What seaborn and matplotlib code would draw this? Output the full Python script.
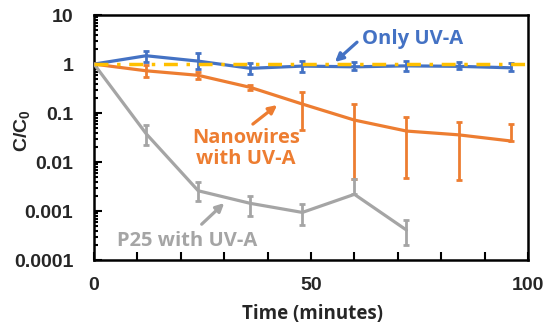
import numpy as np
import matplotlib
matplotlib.use('Agg')
import matplotlib.pyplot as plt
from matplotlib.ticker import FixedLocator, LogLocator, NullFormatter
import pandas as pd
import seaborn as sns

# time points (minutes)
time = [0, 12, 24, 36, 48, 60, 72, 84, 96]
time_p25 = [0, 12, 24, 36, 48, 60, 72]

# Only UV-A
uv_only = [1, 1.48, 1.15, 0.82, 0.91, 0.88, 0.92, 0.90, 0.84]
uv_only_hi = [1, 1.87, 1.70, 1.06, 1.17, 1.11, 1.15, 1.08, 1.06]
uv_only_lo = [1, 1.11, 0.80, 0.62, 0.68, 0.75, 0.73, 0.79, 0.73]

# Nanowires with UV-A
nanowires = [1, 0.73, 0.59, 0.335, 0.153, 0.072, 0.043, 0.036, 0.027]
nanowires_hi = [1, 0.94, 0.68, 0.37, 0.27, 0.15, 0.084, 0.066, 0.059]
nanowires_lo = [1, 0.55, 0.49, 0.29, 0.045, 0.0045, 0.0047, 0.0043, 0.027]

# P25 with UV-A
p25 = [1, 0.038, 0.0026, 0.00144, 0.00094, 0.0022, 0.00041]
p25_hi = [1, 0.057, 0.0039, 0.0020, 0.0014, 0.0045, 0.00065]
p25_lo = [1, 0.022, 0.0016, 0.00081, 0.00052, 0.0022, 0.00020]

ytick_vals = [10, 1, 0.1, 0.01, 0.001, 0.0001]
ytick_labels = ['10', '1', '0.1', '0.01', '0.001', '0.0001']

BLUE = '#4472C4'
ORANGE = '#ED7D31'
GRAY = '#A5A5A5'
YELLOW = '#FFC000'

sns.set_style('ticks')
plt.rcParams['font.family'] = ['Liberation Sans', 'DejaVu Sans']
plt.rcParams['mathtext.fontset'] = 'custom'
plt.rcParams['mathtext.bf'] = 'Liberation Sans:bold'
plt.rcParams['mathtext.rm'] = 'Liberation Sans:bold'

fig = plt.figure(figsize=(5.5, 3.28), dpi=100)
ax = fig.add_axes([0.171, 0.207, 0.789, 0.747])

series = [
    (time, uv_only, uv_only_lo, uv_only_hi, BLUE),
    (time, nanowires, nanowires_lo, nanowires_hi, ORANGE),
    (time_p25, p25, p25_lo, p25_hi, GRAY),
]
for t, v, lo, hi, col in series:
    df = pd.DataFrame({'t': t, 'v': v})
    sns.lineplot(data=df, x='t', y='v', ax=ax, color=col, lw=2.3, zorder=3)
    v = np.array(v)
    yerr = [v - np.array(lo), np.array(hi) - v]
    ax.errorbar(t, v, yerr=yerr, fmt='none', ecolor=col, elinewidth=2.0,
                capsize=2.5, capthick=2.0, zorder=3)

# reference level at C/C0 = 1
ax.axhline(1, color=YELLOW, lw=2.5, dashes=(4, 2.5, 1, 2.5), zorder=4,
           clip_on=False, xmax=1.01)

ax.set_yscale('log')
ax.set_ylim(1e-4, 10)
ax.set_xlim(0, 100)

ax.xaxis.set_major_locator(FixedLocator([0, 50, 100]))
ax.xaxis.set_minor_locator(FixedLocator([10, 20, 30, 40, 60, 70, 80, 90]))
ax.set_yticks(ytick_vals)
ax.set_yticklabels(ytick_labels)
ax.yaxis.set_minor_locator(LogLocator(base=10, subs=np.arange(2, 10), numticks=20))
ax.yaxis.set_minor_formatter(NullFormatter())

ax.tick_params(axis='both', which='both', direction='in', width=1.5, color='black')
ax.tick_params(axis='x', which='both', length=6, pad=12, labelsize=14)
ax.tick_params(axis='y', which='major', length=6, pad=15, labelsize=14)
ax.tick_params(axis='y', which='minor', length=3)
for lab in ax.get_xticklabels() + ax.get_yticklabels():
    lab.set_fontweight('bold')

for s in ax.spines.values():
    s.set_visible(True)
    s.set_linewidth(1.8)
    s.set_color('black')

ax.set_xlabel('Time (minutes)', fontsize=13.5, fontweight='bold',
              family=['Open Sans', 'DejaVu Sans'])
ax.xaxis.set_label_coords(0.504, -0.218)
ax.xaxis.label.set_va('center')
ax.set_ylabel(r'C/C$_\mathbf{0}$', fontsize=14, fontweight='bold')
ax.yaxis.set_label_coords(-0.165, 0.53)
ax.yaxis.label.set_va('center')

tfont = dict(family=['Open Sans', 'DejaVu Sans'], fontweight='bold', fontsize=14.5)
arrow = dict(arrowstyle='-|>', lw=2.3, mutation_scale=12, shrinkA=0, shrinkB=0)
ax.annotate('', xy=(55.5, 1.1), xytext=(60.6, 2.8),
            arrowprops=dict(color=BLUE, **arrow))
ax.text(73.5, 3.2, 'Only UV-A', color=BLUE, ha='center', va='center', **tfont)
ax.annotate('', xy=(42.2, 0.146), xytext=(36.6, 0.0597),
            arrowprops=dict(color=ORANGE, **arrow))
ax.text(35.0, 0.019, 'Nanowires\nwith UV-A', color=ORANGE, ha='center',
        va='center', linespacing=1.05, **tfont)
ax.annotate('', xy=(30.0, 0.00146), xytext=(24.8, 0.00054),
            arrowprops=dict(color=GRAY, **arrow))
ax.text(21.5, 0.00024, 'P25 with UV-A', color=GRAY, ha='center',
        va='center', **tfont)

fig.savefig('out.png', dpi=100)
